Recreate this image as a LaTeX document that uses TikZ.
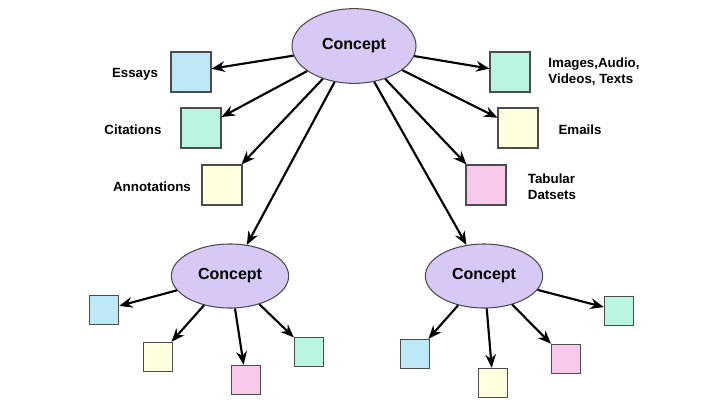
\documentclass[tikz,border=0pt]{standalone}
\usepackage{fontspec}
\setmainfont{Liberation Sans}
\usetikzlibrary{shapes.geometric,arrows.meta}

\definecolor{cblue}{HTML}{BDE9F7}
\definecolor{cteal}{HTML}{B9F5E0}
\definecolor{cyellow}{HTML}{FFFFE0}
\definecolor{cpink}{HTML}{F9C9EC}
\definecolor{clav}{HTML}{D7C8F5}

\tikzset{
  concept/.style={ellipse, draw=black!70, fill=clav, thick, font=\bfseries\fontsize{12}{14}\selectfont},
  big/.style={draw=black!70, thick, minimum size=30pt, inner sep=0pt},
  small/.style={draw=black!70, thick, minimum size=22pt, inner sep=0pt},
  lbl/.style={font=\bfseries\fontsize{10}{12}\selectfont, align=left},
  link/.style={-{Stealth[length=10pt,width=8pt]}, line width=1.6pt},
}

\begin{document}
\begin{tikzpicture}[x=0.75pt,y=-0.75pt]
    \useasboundingbox (0,0) rectangle (706,411);
    \node[concept, minimum width=93pt, minimum height=56pt] (top) at (354,46) {Concept};
    \node[concept, minimum width=88pt, minimum height=48pt] (left) at (230,276) {Concept};
    \node[concept, minimum width=88pt, minimum height=48pt] (right) at (484,276) {Concept};

    % top left
    \node[big, fill=cblue] (essays) at (191,72) {};
    \node[big, fill=cteal] (citations) at (201,128) {};
    \node[big, fill=cyellow] (annot) at (222,185) {};
    \node[lbl] (l1) at (135,74) {Essays};
    \node[lbl] (l2) at (133,130) {Citations};
    \node[lbl] (l3) at (152,187) {Annotations};

    % top right
    \node[big, fill=cteal] (media) at (510,72) {};
    \node[big, fill=cyellow] (emails) at (518,128) {};
    \node[big, fill=cpink] (tabular) at (486,185) {};
    \node[lbl] (l4) at (594,72) {Images,Audio,\\Videos, Texts};
    \node[lbl] (l5) at (580,130) {Emails};
    \node[lbl] (l6) at (552,187) {Tabular\\Datsets};

    % bottom left
    \node[small, fill=cblue] (a1) at (104,310) {};
    \node[small, fill=cyellow] (a2) at (158,357) {};
    \node[small, fill=cpink] (a3) at (246,380) {};
    \node[small, fill=cteal] (a4) at (309,352) {};

    % bottom right
    \node[small, fill=cblue] (b1) at (415,354) {};
    \node[small, fill=cyellow] (b2) at (493,383) {};
    \node[small, fill=cpink] (b3) at (566,359) {};
    \node[small, fill=cteal] (b4) at (619,311) {};

    \foreach \t in {essays,citations,annot,media,emails,tabular,left,right}
      \draw[link] (top) -- (\t);
    \foreach \t in {a1,a2,a3,a4}
      \draw[link] (left) -- (\t);
    \foreach \t in {b1,b2,b3,b4}
      \draw[link] (right) -- (\t);
\end{tikzpicture}
\end{document}
